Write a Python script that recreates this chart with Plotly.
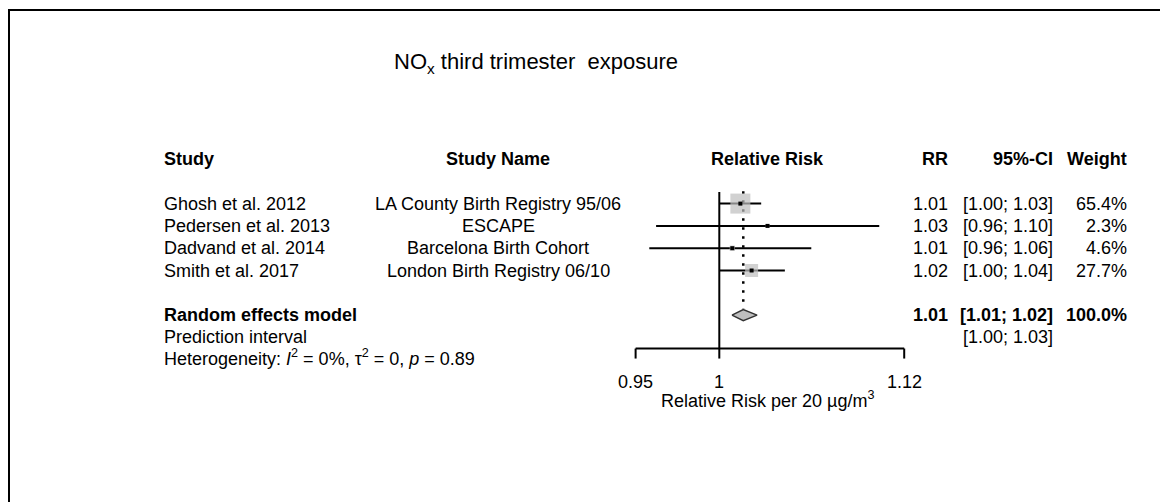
import math
import plotly.graph_objects as go

# ---------------- data ----------------
studies = ["Ghosh et al. 2012", "Pedersen et al. 2013", "Dadvand et al. 2014", "Smith et al. 2017"]
study_names = ["LA County Birth Registry 95/06", "ESCAPE", "Barcelona Birth Cohort", "London Birth Registry 06/10"]
rr = [1.013, 1.030, 1.008, 1.020]
ci_low = [1.000, 0.962, 0.958, 1.000]
ci_high = [1.026, 1.103, 1.058, 1.041]
weights = [65.4, 2.3, 4.6, 27.7]
rr_text = ["1.01", "1.03", "1.01", "1.02"]
ci_text = ["[1.00; 1.03]", "[0.96; 1.10]", "[0.96; 1.06]", "[1.00; 1.04]"]
weight_text = ["65.4%", "2.3%", "4.6%", "27.7%"]

pooled_rr = 1.0148
pooled_low = 1.0078
pooled_high = 1.0234
pooled_text = ["1.01", "[1.01; 1.02]", "100.0%"]
pred_text = "[1.00; 1.03]"

tick_vals = [0.95, 1.0, 1.12]
tick_labels = ["0.95", "1", "1.12"]

# ---------------- layout helpers ----------------
OFF = 8                      # page body margin
W, H = 1168 - OFF, 502 - OFF # figure size
FONT = "Liberation Sans, Arial, sans-serif"
FS = 18
ROW0_PX, ROW_H = 159.0 - OFF, 22.3

def px(x):  # reference-page x pixel -> paper
    return (x - OFF) / W

def py(y):  # reference-page y pixel -> paper
    return 1 - (y - OFF) / H

# x axis (log) mapped so 0.95 -> 636.7px and 1.12 -> 905.3px on the page
k = (905.3 - 636.7) / (math.log10(1.12) - math.log10(0.95))
x_one = 719.3 - OFF
x_lo = (0 - x_one) / k
x_hi = (W - x_one) / k
# y axis in row units
y_top = (0 - ROW0_PX) / ROW_H
y_bot = (H - ROW0_PX) / ROW_H

study_rows = [2, 3, 4, 5]
pooled_row = 7
pred_row = 8
het_row = 8.9
axis_row = 8.5

fig = go.Figure()

# reference line at 1
fig.add_trace(go.Scatter(x=[1, 1], y=[1.48, axis_row], mode="lines",
                         line=dict(color="black", width=2), hoverinfo="skip", showlegend=False))
# dotted line at pooled estimate
fig.add_trace(go.Scatter(x=[pooled_rr, pooled_rr], y=[1.45, pooled_row - 0.3], mode="lines",
                         line=dict(color="black", width=2.5, dash="2.5px,6.5px"), hoverinfo="skip", showlegend=False))

# CI lines
for i in range(len(studies)):
    fig.add_trace(go.Scatter(x=[ci_low[i], ci_high[i]], y=[study_rows[i]] * 2, mode="lines",
                             line=dict(color="black", width=2), hoverinfo="skip", showlegend=False))

# weight boxes
box_sizes = [20 * math.sqrt(w / max(weights)) for w in weights]
fig.add_trace(go.Scatter(x=rr, y=study_rows, mode="markers",
                         marker=dict(symbol="square", size=box_sizes, color="#BEBEBE", line=dict(width=0)),
                         hoverinfo="skip", showlegend=False))
# point estimates
fig.add_trace(go.Scatter(x=rr, y=study_rows, mode="markers",
                         marker=dict(symbol="square", size=4, color="black", line=dict(width=0)),
                         hoverinfo="skip", showlegend=False))

# diamond
dh = 5.5 / ROW_H
fig.add_trace(go.Scatter(x=[pooled_low, pooled_rr, pooled_high, pooled_rr, pooled_low],
                         y=[pooled_row, pooled_row - dh, pooled_row, pooled_row + dh, pooled_row],
                         mode="lines", fill="toself", fillcolor="#BEBEBE",
                         line=dict(color="#333333", width=1.5), hoverinfo="skip", showlegend=False))

# x axis bracket
fig.add_trace(go.Scatter(x=[tick_vals[0], tick_vals[-1]], y=[axis_row, axis_row], mode="lines",
                         line=dict(color="black", width=2), hoverinfo="skip", showlegend=False))
for tv in tick_vals:
    fig.add_trace(go.Scatter(x=[tv, tv], y=[axis_row, axis_row + 10 / ROW_H], mode="lines",
                             line=dict(color="black", width=2), hoverinfo="skip", showlegend=False))

annotations = []

def txt(text, x, y, xanchor="left", size=FS, bold=False, xref="paper", yref="y"):
    if bold:
        text = "<b>" + text + "</b>"
    annotations.append(dict(text=text, x=x, y=y, xref=xref, yref=yref, xanchor=xanchor,
                            yanchor="middle", showarrow=False,
                            font=dict(family=FONT, size=size, color="black")))

# title
txt("NO<sub>x</sub> third trimester\u00a0 exposure", px(392), -4.3, size=22)

# headers
txt("Study", px(162), 0, bold=True)
txt("Study Name", px(498), 0, xanchor="center", bold=True)
txt("Relative Risk", px(767), 0, xanchor="center", bold=True)
txt("RR", px(950), 0, xanchor="right", bold=True)
txt("95%-CI", px(1055), 0, xanchor="right", bold=True)
txt("Weight", px(1129), 0, xanchor="right", bold=True)

for i in range(len(studies)):
    r = study_rows[i]
    txt(studies[i], px(162), r)
    txt(study_names[i], px(498), r, xanchor="center")
    txt(rr_text[i], px(950), r, xanchor="right")
    txt(ci_text[i], px(1055), r, xanchor="right")
    txt(weight_text[i], px(1129), r, xanchor="right")

txt("Random effects model", px(162), pooled_row, bold=True)
txt(pooled_text[0], px(950), pooled_row, xanchor="right", bold=True)
txt(pooled_text[1], px(1055), pooled_row, xanchor="right", bold=True)
txt(pooled_text[2], px(1129), pooled_row, xanchor="right", bold=True)

txt("Prediction interval", px(162), pred_row)
txt(pred_text, px(1055), pred_row, xanchor="right")

txt("Heterogeneity: <i>I</i><sup>2</sup> = 0%, \u03c4<sup>2</sup> = 0, <i>p</i> = 0.89", px(162), het_row)

# tick labels (log axis: annotation x given in log10 units)
for tv, tl in zip(tick_vals, tick_labels):
    txt(tl, math.log10(tv), 10, xanchor="center", xref="x")
txt("Relative Risk per 20 \u00b5g/m<sup>3</sup>", px(767), 10.8, xanchor="center")

# border (top and left visible)
shapes = [
    dict(type="line", xref="paper", yref="paper", x0=px(9), x1=px(1175), y0=py(10), y1=py(10),
         line=dict(color="black", width=2)),
    dict(type="line", xref="paper", yref="paper", x0=px(9), x1=px(9), y0=py(9), y1=py(510),
         line=dict(color="black", width=2)),
]

fig.update_layout(
    width=W, height=H,
    margin=dict(l=0, r=0, t=0, b=0),
    paper_bgcolor="white", plot_bgcolor="white",
    xaxis=dict(type="log", range=[x_lo, x_hi], domain=[0, 1], visible=False, fixedrange=True),
    yaxis=dict(range=[y_bot, y_top], domain=[0, 1], visible=False, fixedrange=True),
    annotations=annotations,
    shapes=shapes,
    showlegend=False,
)

fig.write_html("out.html")
